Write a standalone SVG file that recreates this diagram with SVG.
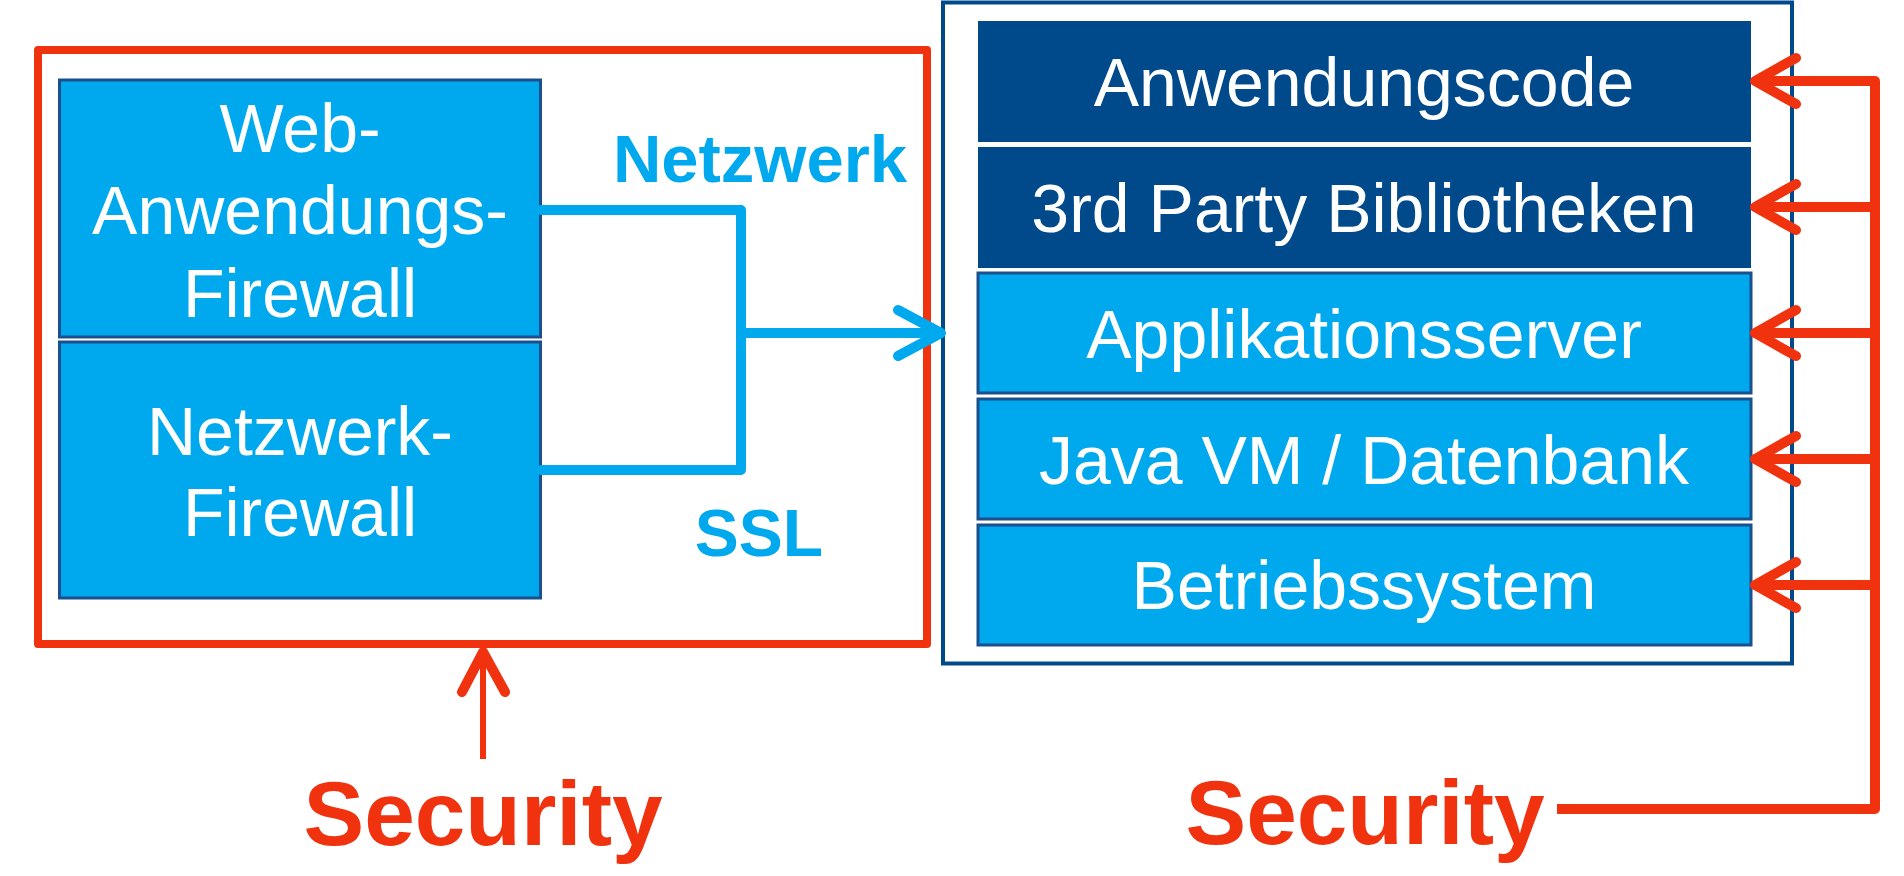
<svg xmlns="http://www.w3.org/2000/svg" width="1904" height="876" viewBox="0 0 1904 876">
<style>
.t{font-family:"Liberation Sans",Arial,sans-serif;fill:#fff;text-anchor:middle;font-size:68px}
.dk{fill:#004a8c}
.lt{fill:#00a9ee;stroke:#1b4f8e;stroke-width:3}
.bl{fill:none;stroke:#00a9ee;stroke-width:10;stroke-linecap:round;stroke-linejoin:round}
.rd{fill:none;stroke:#f0320f;stroke-width:10;stroke-linecap:round;stroke-linejoin:round}
.lb{font-family:"Liberation Sans",Arial,sans-serif;font-weight:bold;text-anchor:middle}
</style>
<rect width="1904" height="876" fill="#fff"/>
<g id="left-frame">
<rect x="38" y="50" width="889" height="594" fill="none" stroke="#f0320f" stroke-width="8" stroke-linejoin="round"/>
</g>
<g id="waf">
<rect class="lt" x="59.5" y="80" width="481" height="257"/>
<text class="t" x="300" y="152">Web-</text>
<text class="t" x="300" y="234">Anwendungs-</text>
<text class="t" x="300" y="317">Firewall</text>
</g>
<g id="nfw">
<rect class="lt" x="59.5" y="342" width="481" height="256"/>
<text class="t" x="300" y="455">Netzwerk-</text>
<text class="t" x="300" y="536">Firewall</text>
</g>
<g id="stack">
<rect x="943" y="2.5" width="849" height="661" fill="none" stroke="#004a8c" stroke-width="4"/>
</g>
<g id="layer1">
<rect class="dk" x="978" y="21" width="773" height="121"/>
<text class="t" x="1364" y="106" font-size="67">Anwendungscode</text>
</g>
<g id="layer2">
<rect class="dk" x="978" y="147" width="773" height="121"/>
<text class="t" x="1364" y="232" font-size="67">3rd Party Bibliotheken</text>
</g>
<g id="layer3">
<rect class="lt" x="978" y="273" width="773" height="120"/>
<text class="t" x="1364" y="358" font-size="67">Applikationsserver</text>
</g>
<g id="layer4">
<rect class="lt" x="978" y="399" width="773" height="120"/>
<text class="t" x="1364" y="484" font-size="67">Java VM / Datenbank</text>
</g>
<g id="layer5">
<rect class="lt" x="978" y="525" width="773" height="120"/>
<text class="t" x="1364" y="609" font-size="67">Betriebssystem</text>
</g>
<g id="labels">
<text class="lb" x="760" y="182" font-size="67" fill="#00a9ee">Netzwerk</text>
<text class="lb" x="759" y="556" font-size="66" fill="#00a9ee">SSL</text>
<text class="lb" x="483" y="845" font-size="91" fill="#f0320f">Security</text>
<text class="lb" x="1365" y="844" font-size="91" fill="#f0320f">Security</text>
</g>
<g id="connectors">
<polyline class="bl" points="541,210 741,210 741,470 541,470"/>
<line class="bl" x1="741" y1="333" x2="938" y2="333"/>
<polyline class="bl" points="898,310 941,333 898,356"/>
<line x1="483" y1="759" x2="483" y2="650" stroke="#f0320f" stroke-width="6"/>
<polyline class="rd" points="462,692 483,652 505,692" stroke-width="8"/>
<polyline points="1557,809 1875,809 1875,81" fill="none" stroke="#f0320f" stroke-width="10" stroke-linejoin="round"/>
<g class="rd">
<line x1="1758" y1="81" x2="1875" y2="81"/>
<line x1="1758" y1="207" x2="1875" y2="207"/>
<line x1="1758" y1="333" x2="1875" y2="333"/>
<line x1="1758" y1="459" x2="1875" y2="459"/>
<line x1="1758" y1="585" x2="1875" y2="585"/>
<polyline points="1796,58 1755,81 1796,104"/>
<polyline points="1796,184 1755,207 1796,230"/>
<polyline points="1796,310 1755,333 1796,356"/>
<polyline points="1796,436 1755,459 1796,482"/>
<polyline points="1796,562 1755,585 1796,608"/>
</g>
</g>
</svg>
